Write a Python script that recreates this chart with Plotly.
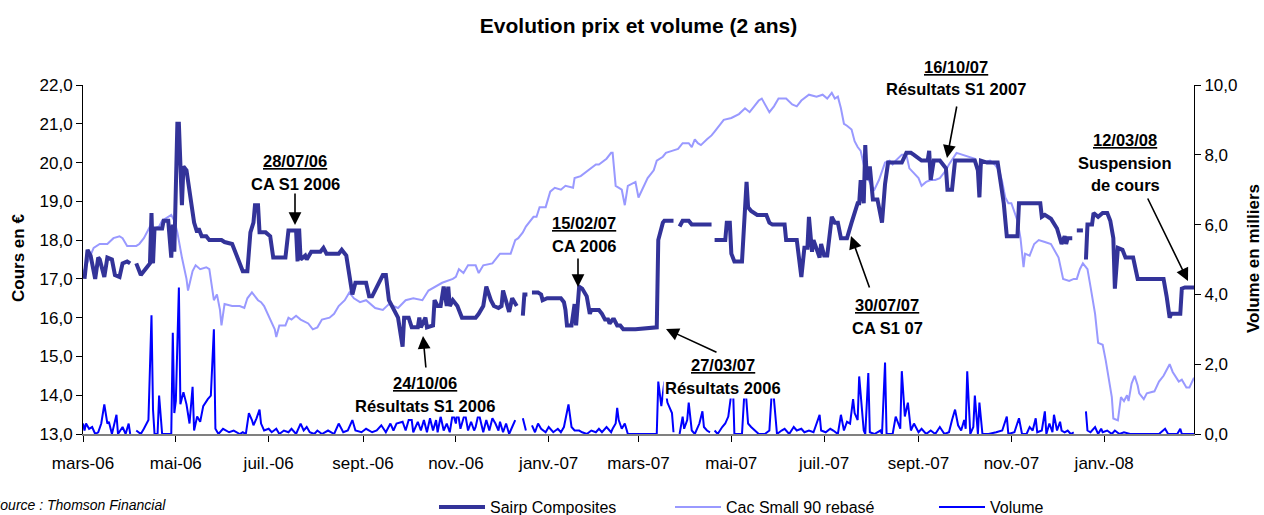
import plotly.graph_objects as go

# ---------------- data ----------------
sairp = [
    ("2006-03-14", 17.0), ("2006-03-16", 17.75), ("2006-03-18", 17.6), ("2006-03-21", 17.0),
    ("2006-03-23", 17.55), ("2006-03-24", 17.5), ("2006-03-27", 17.05), ("2006-03-29", 17.55),
    ("2006-04-01", 17.5), ("2006-04-03", 17.1), ("2006-04-06", 17.05), ("2006-04-08", 17.4),
    ("2006-04-11", 17.45), ("2006-04-13", 17.4), ("2006-04-15", None), ("2006-04-17", 17.4),
    ("2006-04-20", 17.1), ("2006-04-24", 17.3), ("2006-04-26", 17.4), ("2006-04-27", 18.7),
    ("2006-04-28", 17.4), ("2006-04-29", 18.3), ("2006-05-04", 18.3), ("2006-05-05", 18.5),
    ("2006-05-08", 18.5), ("2006-05-10", 17.55), ("2006-05-11", 18.4), ("2006-05-12", 17.7),
    ("2006-05-14", 21.0), ("2006-05-15", 21.0), ("2006-05-17", 18.9), ("2006-05-18", 19.9),
    ("2006-05-20", 19.8), ("2006-05-25", 18.45), ("2006-05-27", 18.2), ("2006-05-28", 18.3),
    ("2006-05-30", 18.1), ("2006-06-02", 18.1), ("2006-06-04", 18.0), ("2006-06-06", 18.0),
    ("2006-06-12", 18.0), ("2006-06-14", 17.95), ("2006-06-19", 17.9), ("2006-06-26", 17.2),
    ("2006-06-29", 17.2), ("2006-07-01", 18.2), ("2006-07-03", 18.45), ("2006-07-04", 18.9),
    ("2006-07-06", 18.9), ("2006-07-07", 18.2), ("2006-07-11", 18.2), ("2006-07-14", 18.1),
    ("2006-07-16", 17.55), ("2006-07-24", 17.55), ("2006-07-26", 18.25), ("2006-07-31", 18.25),
    ("2006-08-01", 17.45), ("2006-08-02", 18.3), ("2006-08-03", 17.5), ("2006-08-06", 17.6),
    ("2006-08-07", 17.5), ("2006-08-10", 17.7), ("2006-08-16", 17.7), ("2006-08-18", 17.8),
    ("2006-08-20", 17.65), ("2006-08-28", 17.65), ("2006-08-30", 17.75), ("2006-09-02", 17.6),
    ("2006-09-04", 17.15), ("2006-09-06", 16.6), ("2006-09-08", 16.9), ("2006-09-15", 16.9),
    ("2006-09-17", 16.55), ("2006-09-19", 16.55), ("2006-09-26", 17.1), ("2006-09-28", 17.1),
    ("2006-09-30", 16.45), ("2006-10-03", 16.2), ("2006-10-06", 16.0), ("2006-10-09", 15.25),
    ("2006-10-10", 16.0), ("2006-10-13", 16.0), ("2006-10-15", 15.75), ("2006-10-19", 15.75),
    ("2006-10-20", 16.0), ("2006-10-21", 15.75), ("2006-10-24", 16.0), ("2006-10-25", 15.75),
    ("2006-10-29", 15.8), ("2006-10-30", 16.45), ("2006-11-01", 16.3), ("2006-11-03", 16.3),
    ("2006-11-05", 16.8), ("2006-11-07", 16.3), ("2006-11-08", 16.8), ("2006-11-09", 16.3),
    ("2006-11-11", 16.45), ("2006-11-14", 16.3), ("2006-11-17", 16.0), ("2006-11-26", 16.0),
    ("2006-11-28", 16.1), ("2006-12-01", 16.3), ("2006-12-03", 16.8), ("2006-12-06", 16.45),
    ("2006-12-08", 16.3), ("2006-12-11", 16.25), ("2006-12-13", 16.3), ("2006-12-14", 16.7),
    ("2006-12-18", 16.15), ("2006-12-20", 16.5), ("2006-12-23", 16.3), ("2006-12-25", None),
    ("2006-12-27", 16.05), ("2006-12-28", 16.6), ("2006-12-30", 16.6), ("2007-01-01", None),
    ("2007-01-02", 16.65), ("2007-01-06", 16.65), ("2007-01-08", 16.6), ("2007-01-09", 16.45),
    ("2007-01-12", 16.5), ("2007-01-15", 16.5), ("2007-01-21", 16.5), ("2007-01-23", 16.4),
    ("2007-01-24", 16.2), ("2007-01-25", 15.8), ("2007-01-28", 15.8), ("2007-01-30", 16.35),
    ("2007-01-31", 15.8), ("2007-02-02", 16.8), ("2007-02-04", 16.75), ("2007-02-07", 16.55),
    ("2007-02-09", 16.1), ("2007-02-10", 16.2), ("2007-02-15", 16.2), ("2007-02-17", 16.1),
    ("2007-02-19", 15.95), ("2007-02-21", 15.95), ("2007-02-22", 15.85), ("2007-02-24", 15.95),
    ("2007-02-25", 15.95), ("2007-02-27", 15.8), ("2007-03-01", 15.8), ("2007-03-03", 15.7),
    ("2007-03-11", 15.7), ("2007-03-25", 15.75), ("2007-03-26", 18.0), ("2007-03-29", 18.45),
    ("2007-03-30", 18.5), ("2007-04-05", 18.5), ("2007-04-07", None), ("2007-04-09", 18.35),
    ("2007-04-11", 18.5), ("2007-04-15", 18.5), ("2007-04-17", 18.4), ("2007-04-30", 18.4),
    ("2007-05-01", None), ("2007-05-02", 18.0), ("2007-05-09", 18.0), ("2007-05-10", 18.45),
    ("2007-05-12", 18.45), ("2007-05-13", 17.65), ("2007-05-15", 17.45), ("2007-05-20", 17.45),
    ("2007-05-23", 19.5), ("2007-05-24", 18.85), ("2007-05-26", 18.75), ("2007-05-30", 18.65),
    ("2007-06-05", 18.65), ("2007-06-07", 18.45), ("2007-06-09", 18.4), ("2007-06-17", 18.4),
    ("2007-06-18", 18.0), ("2007-06-25", 18.0), ("2007-06-28", 17.05), ("2007-06-30", 17.8),
    ("2007-07-02", 17.8), ("2007-07-03", 18.6), ("2007-07-05", 17.7), ("2007-07-06", 18.0),
    ("2007-07-10", 17.55), ("2007-07-11", 17.9), ("2007-07-13", 17.6), ("2007-07-15", 17.6),
    ("2007-07-18", 18.6), ("2007-07-20", 18.45), ("2007-07-22", 18.45), ("2007-07-24", 18.05),
    ("2007-07-28", 18.05), ("2007-07-31", 18.45), ("2007-08-01", 18.6), ("2007-08-04", 18.95),
    ("2007-08-05", 18.95), ("2007-08-06", 19.55), ("2007-08-08", 18.95), ("2007-08-09", 20.45),
    ("2007-08-10", 19.55), ("2007-08-12", 19.9), ("2007-08-14", 19.05), ("2007-08-17", 19.05),
    ("2007-08-20", 18.45), ("2007-08-22", 19.45), ("2007-08-24", 20.0), ("2007-08-27", 20.0),
    ("2007-09-02", 20.0), ("2007-09-05", 20.25), ("2007-09-08", 20.25), ("2007-09-10", 20.2),
    ("2007-09-15", 20.05), ("2007-09-19", 20.05), ("2007-09-20", 20.3), ("2007-09-21", 19.55),
    ("2007-09-23", 20.05), ("2007-09-27", 20.05), ("2007-10-01", 19.85), ("2007-10-02", 19.3),
    ("2007-10-05", 19.3), ("2007-10-07", 20.05), ("2007-10-20", 20.05), ("2007-10-22", 19.8),
    ("2007-10-23", 19.1), ("2007-10-24", 20.05), ("2007-10-28", 20.0), ("2007-11-04", 20.0),
    ("2007-11-06", 19.5), ("2007-11-08", 18.95), ("2007-11-10", 18.1), ("2007-11-17", 18.1),
    ("2007-11-18", 18.95), ("2007-12-02", 18.95), ("2007-12-03", 18.6), ("2007-12-05", 18.65),
    ("2007-12-09", 18.55), ("2007-12-11", 18.4), ("2007-12-13", 18.3), ("2007-12-16", 17.9),
    ("2007-12-18", 18.1), ("2007-12-19", 17.9), ("2007-12-20", 18.05), ("2007-12-23", 18.05),
    ("2007-12-25", None), ("2007-12-26", 18.25), ("2007-12-30", 18.25), ("2007-12-31", None),
    ("2008-01-01", 17.5), ("2008-01-02", 18.4), ("2008-01-05", 18.4), ("2008-01-06", 18.7),
    ("2008-01-09", 18.6), ("2008-01-12", 18.7), ("2008-01-15", 18.7), ("2008-01-17", 18.5),
    ("2008-01-19", 18.05), ("2008-01-20", 16.75), ("2008-01-22", 17.8), ("2008-01-25", 17.75),
    ("2008-01-27", 17.55), ("2008-02-01", 17.55), ("2008-02-04", 17.0), ("2008-02-21", 17.0),
    ("2008-02-23", 16.55), ("2008-02-25", 16.0), ("2008-02-26", 16.1), ("2008-03-03", 16.1),
    ("2008-03-04", 16.75), ("2008-03-06", 16.78), ("2008-03-12", 16.78),
]

cac_small90 = [
    ("2006-03-13", 17.15), ("2006-03-20", 17.8), ("2006-03-24", 17.9), ("2006-03-29", 17.9),
    ("2006-04-02", 18.05), ("2006-04-06", 18.1), ("2006-04-08", 18.05), ("2006-04-11", 17.85),
    ("2006-04-17", 17.85), ("2006-04-19", 17.9), ("2006-04-22", 18.05), ("2006-04-26", 18.35),
    ("2006-04-29", 18.3), ("2006-05-02", 18.35), ("2006-05-04", 18.5), ("2006-05-06", 18.55),
    ("2006-05-10", 18.65), ("2006-05-12", 18.5), ("2006-05-14", 18.2), ("2006-05-17", 17.55),
    ("2006-05-20", 17.0), ("2006-05-21", 16.7), ("2006-05-24", 17.2), ("2006-05-26", 17.35),
    ("2006-05-29", 17.25), ("2006-06-02", 17.3), ("2006-06-04", 17.25), ("2006-06-07", 16.45),
    ("2006-06-09", 16.6), ("2006-06-11", 16.2), ("2006-06-12", 15.8), ("2006-06-14", 16.35),
    ("2006-06-19", 16.3), ("2006-06-24", 16.3), ("2006-06-27", 16.25), ("2006-06-29", 16.5),
    ("2006-07-02", 16.65), ("2006-07-06", 16.45), ("2006-07-08", 16.4), ("2006-07-10", 16.3),
    ("2006-07-14", 15.95), ("2006-07-17", 15.7), ("2006-07-18", 15.5), ("2006-07-20", 15.8),
    ("2006-07-24", 15.8), ("2006-07-26", 16.0), ("2006-07-28", 15.95), ("2006-07-31", 16.05),
    ("2006-08-03", 15.95), ("2006-08-08", 15.85), ("2006-08-11", 15.7), ("2006-08-14", 15.75),
    ("2006-08-17", 15.95), ("2006-08-22", 16.0), ("2006-08-25", 16.1), ("2006-08-28", 16.3),
    ("2006-09-01", 16.45), ("2006-09-04", 16.65), ("2006-09-07", 16.5), ("2006-09-11", 16.4),
    ("2006-09-15", 16.45), ("2006-09-21", 16.25), ("2006-09-26", 16.2), ("2006-09-30", 16.35),
    ("2006-10-06", 16.25), ("2006-10-11", 16.45), ("2006-10-16", 16.5), ("2006-10-22", 16.45),
    ("2006-10-26", 16.7), ("2006-10-31", 16.8), ("2006-11-04", 16.9), ("2006-11-11", 17.0),
    ("2006-11-13", 17.05), ("2006-11-15", 17.25), ("2006-11-18", 17.15), ("2006-11-21", 17.35),
    ("2006-11-26", 17.35), ("2006-11-28", 17.15), ("2006-12-01", 17.35), ("2006-12-07", 17.4),
    ("2006-12-10", 17.55), ("2006-12-12", 17.65), ("2006-12-16", 17.65), ("2006-12-19", 17.65),
    ("2006-12-22", 18.0), ("2006-12-24", 18.05), ("2006-12-27", 18.2), ("2006-12-29", 18.35),
    ("2007-01-03", 18.6), ("2007-01-05", 18.6), ("2007-01-07", 18.85), ("2007-01-11", 18.85),
    ("2007-01-14", 19.25), ("2007-01-17", 19.35), ("2007-01-21", 19.3), ("2007-01-24", 19.4),
    ("2007-01-29", 19.35), ("2007-01-30", 19.6), ("2007-02-03", 19.65), ("2007-02-08", 19.8),
    ("2007-02-13", 19.95), ("2007-02-15", 19.95), ("2007-02-18", 20.05), ("2007-02-20", 20.1),
    ("2007-02-23", 20.25), ("2007-02-24", 20.25), ("2007-02-26", 19.4), ("2007-03-02", 19.3),
    ("2007-03-04", 18.9), ("2007-03-06", 19.4), ("2007-03-11", 19.5), ("2007-03-13", 19.1),
    ("2007-03-16", 19.35), ("2007-03-19", 19.6), ("2007-03-23", 19.8), ("2007-03-25", 20.05),
    ("2007-03-29", 20.15), ("2007-03-31", 20.25), ("2007-04-04", 20.3), ("2007-04-08", 20.35),
    ("2007-04-11", 20.5), ("2007-04-15", 20.5), ("2007-04-17", 20.4), ("2007-04-19", 20.6),
    ("2007-04-21", 20.5), ("2007-04-23", 20.45), ("2007-04-27", 20.6), ("2007-04-30", 20.7),
    ("2007-05-02", 20.8), ("2007-05-05", 20.95), ("2007-05-08", 21.1), ("2007-05-13", 21.15),
    ("2007-05-18", 21.25), ("2007-05-22", 21.4), ("2007-05-25", 21.3), ("2007-05-28", 21.45),
    ("2007-05-31", 21.6), ("2007-06-02", 21.65), ("2007-06-04", 21.5), ("2007-06-07", 21.3),
    ("2007-06-10", 21.45), ("2007-06-13", 21.65), ("2007-06-18", 21.65), ("2007-06-22", 21.5),
    ("2007-06-25", 21.45), ("2007-06-28", 21.6), ("2007-07-03", 21.75), ("2007-07-08", 21.7),
    ("2007-07-12", 21.75), ("2007-07-15", 21.65), ("2007-07-18", 21.8), ("2007-07-20", 21.65),
    ("2007-07-22", 21.7), ("2007-07-24", 21.4), ("2007-07-26", 21.0), ("2007-07-28", 20.95),
    ("2007-07-31", 20.85), ("2007-08-02", 20.55), ("2007-08-04", 20.4), ("2007-08-06", 20.3),
    ("2007-08-08", 19.95), ("2007-08-10", 19.65), ("2007-08-13", 19.4), ("2007-08-15", 19.3),
    ("2007-08-18", 19.55), ("2007-08-22", 20.0), ("2007-08-25", 20.05), ("2007-08-27", 19.95),
    ("2007-08-29", 20.05), ("2007-09-02", 20.2), ("2007-09-05", 20.2), ("2007-09-07", 19.85),
    ("2007-09-13", 19.6), ("2007-09-15", 19.4), ("2007-09-18", 19.5), ("2007-09-21", 19.55),
    ("2007-09-24", 19.55), ("2007-09-27", 19.6), ("2007-10-01", 19.8), ("2007-10-03", 19.95),
    ("2007-10-08", 20.25), ("2007-10-12", 20.2), ("2007-10-16", 20.15), ("2007-10-20", 20.1),
    ("2007-10-22", 19.7), ("2007-10-25", 20.0), ("2007-10-30", 20.05), ("2007-11-02", 19.95),
    ("2007-11-05", 19.8), ("2007-11-07", 19.5), ("2007-11-09", 19.1), ("2007-11-11", 18.95),
    ("2007-11-13", 18.95), ("2007-11-17", 18.5), ("2007-11-19", 18.05), ("2007-11-21", 17.3),
    ("2007-11-22", 17.65), ("2007-11-25", 17.6), ("2007-11-28", 17.9), ("2007-12-01", 18.0),
    ("2007-12-05", 17.95), ("2007-12-09", 17.9), ("2007-12-14", 17.55), ("2007-12-17", 17.0),
    ("2007-12-21", 16.95), ("2007-12-24", 17.0), ("2007-12-26", 17.0), ("2007-12-28", 17.25),
    ("2007-12-30", 17.4), ("2008-01-02", 17.25), ("2008-01-04", 16.8), ("2008-01-07", 16.1),
    ("2008-01-09", 15.35), ("2008-01-12", 15.3), ("2008-01-14", 14.9), ("2008-01-15", 14.65),
    ("2008-01-16", 14.4), ("2008-01-18", 13.95), ("2008-01-19", 13.4), ("2008-01-22", 13.35),
    ("2008-01-24", 13.95), ("2008-01-26", 13.85), ("2008-01-28", 14.0), ("2008-01-29", 13.85),
    ("2008-01-31", 14.3), ("2008-02-02", 14.5), ("2008-02-04", 14.25), ("2008-02-05", 14.05),
    ("2008-02-08", 13.9), ("2008-02-10", 14.05), ("2008-02-15", 14.1), ("2008-02-18", 14.35),
    ("2008-02-21", 14.5), ("2008-02-25", 14.8), ("2008-02-27", 14.6), ("2008-03-02", 14.35),
    ("2008-03-04", 14.4), ("2008-03-07", 14.2), ("2008-03-09", 14.2), ("2008-03-12", 14.45),
]

volume_k = [
    ("2006-03-13", 0.30), ("2006-03-14", 0.10), ("2006-03-15", 0.30), ("2006-03-17", 0.15),
    ("2006-03-19", 0.20), ("2006-03-21", 0.00), ("2006-03-23", 0.05), ("2006-03-25", 0.30),
    ("2006-03-27", 0.85), ("2006-03-29", 0.30), ("2006-03-30", 0.35), ("2006-04-01", 0.00),
    ("2006-04-04", 0.55), ("2006-04-05", 0.00), ("2006-04-08", 0.20), ("2006-04-10", 0.00),
    ("2006-04-12", 0.30), ("2006-04-13", 0.00), ("2006-04-15", None), ("2006-04-17", 0.10),
    ("2006-04-20", 0.00), ("2006-04-22", 0.15), ("2006-04-25", 0.40), ("2006-04-27", 3.40),
    ("2006-04-28", 0.70), ("2006-04-29", 0.00), ("2006-05-01", 0.00), ("2006-05-02", 1.10),
    ("2006-05-04", 0.00), ("2006-05-10", 0.00), ("2006-05-11", 2.90), ("2006-05-12", 0.60),
    ("2006-05-13", 0.95), ("2006-05-15", 4.20), ("2006-05-16", 0.85), ("2006-05-18", 1.20),
    ("2006-05-20", 0.85), ("2006-05-22", 0.30), ("2006-05-24", 1.35), ("2006-05-25", 0.10),
    ("2006-05-27", 0.50), ("2006-05-29", 0.35), ("2006-05-31", 0.80), ("2006-06-03", 1.00),
    ("2006-06-05", 1.10), ("2006-06-07", 3.00), ("2006-06-08", 0.15), ("2006-06-10", 0.00),
    ("2006-06-13", 0.15), ("2006-06-17", 0.05), ("2006-06-20", 0.10), ("2006-06-24", 0.00),
    ("2006-06-26", 0.05), ("2006-06-28", 0.00), ("2006-06-30", 0.60), ("2006-07-02", 0.40),
    ("2006-07-03", 0.25), ("2006-07-05", 0.45), ("2006-07-07", 0.70), ("2006-07-08", 0.30),
    ("2006-07-10", 0.10), ("2006-07-13", 0.15), ("2006-07-15", 0.05), ("2006-07-18", 0.15),
    ("2006-07-20", 0.00), ("2006-07-23", 0.10), ("2006-07-26", 0.05), ("2006-07-28", 0.15),
    ("2006-07-31", 0.00), ("2006-08-03", 0.30), ("2006-08-05", 0.10), ("2006-08-07", 0.20),
    ("2006-08-09", 0.05), ("2006-08-12", 0.00), ("2006-08-14", 0.10), ("2006-08-17", 0.00),
    ("2006-08-21", 0.10), ("2006-08-25", 0.00), ("2006-08-28", 0.30), ("2006-08-31", 0.05),
    ("2006-09-03", 0.10), ("2006-09-06", 0.40), ("2006-09-08", 0.10), ("2006-09-12", 0.05),
    ("2006-09-15", 0.15), ("2006-09-19", 0.05), ("2006-09-22", 0.10), ("2006-09-25", 0.25),
    ("2006-09-28", 0.05), ("2006-10-01", 0.30), ("2006-10-03", 0.10), ("2006-10-05", 0.30),
    ("2006-10-09", 0.35), ("2006-10-11", 0.10), ("2006-10-13", 0.40), ("2006-10-15", 0.40),
    ("2006-10-16", 0.05), ("2006-10-19", 0.35), ("2006-10-21", 0.10), ("2006-10-23", 0.40),
    ("2006-10-25", 0.05), ("2006-10-27", 0.45), ("2006-10-29", 0.10), ("2006-10-31", 0.40),
    ("2006-11-01", 0.05), ("2006-11-03", 0.50), ("2006-11-05", 0.10), ("2006-11-07", 0.30),
    ("2006-11-09", 0.05), ("2006-11-11", 0.60), ("2006-11-13", 0.30), ("2006-11-14", 0.70),
    ("2006-11-16", 0.15), ("2006-11-19", 0.60), ("2006-11-21", 0.10), ("2006-11-23", 0.35),
    ("2006-11-25", 0.10), ("2006-11-26", 0.20), ("2006-11-28", 0.60), ("2006-12-01", 0.05),
    ("2006-12-03", 0.40), ("2006-12-05", 0.10), ("2006-12-07", 0.45), ("2006-12-09", 0.30),
    ("2006-12-11", 0.10), ("2006-12-12", 0.35), ("2006-12-14", 0.05), ("2006-12-16", 0.30),
    ("2006-12-18", 0.00), ("2006-12-20", 0.20), ("2006-12-22", 0.40), ("2006-12-25", None),
    ("2006-12-27", 0.45), ("2006-12-29", 0.10), ("2007-01-01", None), ("2007-01-02", 0.25),
    ("2007-01-04", 0.05), ("2007-01-06", 0.30), ("2007-01-08", 0.15), ("2007-01-11", 0.05),
    ("2007-01-13", 0.20), ("2007-01-16", 0.05), ("2007-01-19", 0.15), ("2007-01-21", 0.05),
    ("2007-01-23", 0.20), ("2007-01-26", 0.85), ("2007-01-28", 0.20), ("2007-01-30", 0.10),
    ("2007-02-02", 0.10), ("2007-02-04", 0.05), ("2007-02-07", 0.00), ("2007-02-10", 0.10),
    ("2007-02-13", 0.05), ("2007-02-15", 0.15), ("2007-02-17", 0.05), ("2007-02-20", 0.20),
    ("2007-02-23", 0.05), ("2007-02-24", 0.15), ("2007-02-26", 0.30), ("2007-02-27", 0.75),
    ("2007-02-28", 0.40), ("2007-03-02", 0.15), ("2007-03-04", 0.30), ("2007-03-06", 0.00),
    ("2007-03-14", 0.00), ("2007-03-20", 0.00), ("2007-03-25", 0.00), ("2007-03-26", 1.50),
    ("2007-03-28", 0.80), ("2007-03-30", 1.50), ("2007-04-01", 0.90), ("2007-04-04", 0.60),
    ("2007-04-05", 0.05), ("2007-04-07", None), ("2007-04-09", 0.00), ("2007-04-11", 0.50),
    ("2007-04-12", 0.15), ("2007-04-14", 0.40), ("2007-04-15", 0.90), ("2007-04-17", 0.10),
    ("2007-04-19", 0.00), ("2007-04-22", 0.30), ("2007-04-24", 0.65), ("2007-04-25", 0.20),
    ("2007-04-27", 0.10), ("2007-04-29", 0.05), ("2007-05-01", None), ("2007-05-02", 0.10),
    ("2007-05-04", 0.00), ("2007-05-07", 0.20), ("2007-05-09", 0.30), ("2007-05-11", 0.50),
    ("2007-05-14", 1.50), ("2007-05-15", 0.00), ("2007-05-20", 0.00), ("2007-05-22", 1.50),
    ("2007-05-24", 0.30), ("2007-05-26", 0.20), ("2007-05-31", 0.00), ("2007-06-04", 0.00),
    ("2007-06-07", 0.10), ("2007-06-09", 1.50), ("2007-06-10", 1.00), ("2007-06-12", 0.00),
    ("2007-06-15", 0.10), ("2007-06-17", 0.15), ("2007-06-20", 0.00), ("2007-06-23", 0.20),
    ("2007-06-25", 0.10), ("2007-06-28", 0.15), ("2007-06-30", 0.05), ("2007-07-03", 0.10),
    ("2007-07-06", 0.05), ("2007-07-10", 0.55), ("2007-07-11", 0.10), ("2007-07-14", 0.05),
    ("2007-07-17", 0.15), ("2007-07-19", 0.10), ("2007-07-22", 0.00), ("2007-07-24", 0.55),
    ("2007-07-26", 0.10), ("2007-07-28", 0.35), ("2007-07-30", 0.30), ("2007-08-01", 1.00),
    ("2007-08-02", 0.60), ("2007-08-04", 0.40), ("2007-08-05", 1.65), ("2007-08-07", 0.60),
    ("2007-08-08", 0.10), ("2007-08-09", 0.00), ("2007-08-11", 1.75), ("2007-08-12", 0.05),
    ("2007-08-15", 0.00), ("2007-08-19", 0.10), ("2007-08-20", 0.00), ("2007-08-22", 2.05),
    ("2007-08-23", 0.00), ("2007-08-27", 0.00), ("2007-08-29", 0.50), ("2007-09-01", 0.15),
    ("2007-09-02", 1.80), ("2007-09-04", 0.50), ("2007-09-06", 0.90), ("2007-09-08", 0.10),
    ("2007-09-10", 0.30), ("2007-09-13", 0.05), ("2007-09-15", 0.15), ("2007-09-18", 0.00),
    ("2007-09-21", 0.10), ("2007-09-24", 0.00), ("2007-09-27", 0.20), ("2007-09-30", 0.00),
    ("2007-10-03", 0.05), ("2007-10-05", 0.40), ("2007-10-07", 0.70), ("2007-10-09", 0.25),
    ("2007-10-11", 0.10), ("2007-10-13", 0.40), ("2007-10-14", 0.15), ("2007-10-15", 1.80),
    ("2007-10-17", 0.00), ("2007-10-19", 0.20), ("2007-10-20", 1.10), ("2007-10-22", 0.00),
    ("2007-10-23", 0.90), ("2007-10-25", 0.00), ("2007-10-29", 0.00), ("2007-11-03", 0.05),
    ("2007-11-07", 0.10), ("2007-11-10", 0.50), ("2007-11-11", 0.00), ("2007-11-15", 0.05),
    ("2007-11-18", 0.45), ("2007-11-20", 0.00), ("2007-11-23", 0.00), ("2007-11-25", 0.20),
    ("2007-11-27", 0.10), ("2007-11-29", 0.45), ("2007-11-30", 0.05), ("2007-12-03", 0.10),
    ("2007-12-05", 0.65), ("2007-12-06", 0.00), ("2007-12-08", 0.30), ("2007-12-10", 0.05),
    ("2007-12-11", 0.55), ("2007-12-13", 0.10), ("2007-12-15", 0.35), ("2007-12-16", 0.10),
    ("2007-12-18", 0.05), ("2007-12-20", 0.10), ("2007-12-22", 0.00), ("2007-12-24", 0.05),
    ("2007-12-27", None), ("2008-01-01", 0.65), ("2008-01-02", 0.10), ("2008-01-04", 0.05),
    ("2008-01-07", 0.20), ("2008-01-09", 0.00), ("2008-01-11", 0.15), ("2008-01-12", 0.05),
    ("2008-01-15", 0.10), ("2008-01-18", 0.00), ("2008-01-20", 0.10), ("2008-01-23", 0.00),
    ("2008-01-26", 0.05), ("2008-01-30", 0.00), ("2008-02-05", 0.00), ("2008-02-12", 0.00),
    ("2008-02-18", 0.00), ("2008-02-22", 0.15), ("2008-02-24", 0.00), ("2008-03-01", 0.00),
    ("2008-03-03", 0.15), ("2008-03-04", 0.00), ("2008-03-12", 0.00),
]

tick_dates = ["2006-03-13", "2006-05-13", "2006-07-13", "2006-09-13", "2006-11-13", "2007-01-13",
              "2007-03-13", "2007-05-13", "2007-07-13", "2007-09-13", "2007-11-13", "2008-01-13"]
tick_labels = ["mars-06", "mai-06", "juil.-06", "sept.-06", "nov.-06", "janv.-07",
               "mars-07", "mai-07", "juil.-07", "sept.-07", "nov.-07", "janv.-08"]

# event labels: (date line, description lines)
events = [
    ("28/07/06", ["CA S1 2006"]),
    ("15/02/07", ["CA 2006"]),
    ("24/10/06", ["Résultats S1 2006"]),
    ("27/03/07", ["Résultats 2006"]),
    ("16/10/07", ["Résultats S1 2007"]),
    ("30/07/07", ["CA S1 07"]),
    ("12/03/08", ["Suspension", "de cours"]),
]

# ---------------- layout constants (pixels) ----------------
W, H = 1264, 515
PL, PR, PT, PB = 83, 1194, 85, 434   # plot area edges in px
FONT = "Liberation Sans, Arial, sans-serif"


def px_x(x):
    return (x - PL) / (PR - PL)


def px_y(y):
    return (PB - y) / (PB - PT)


def unzip(pairs):
    return [p[0] for p in pairs], [p[1] for p in pairs]


sx, sy = unzip(sairp)
cx, cy = unzip(cac_small90)
vx, vy = unzip(volume_k)

fig = go.Figure()
fig.add_trace(go.Scatter(x=cx, y=cy, mode="lines", name="Cac Small 90 rebasé",
                         line=dict(color="#9999FF", width=2), legend="legend2"))
fig.add_trace(go.Scatter(x=sx, y=sy, mode="lines", name="Sairp Composites",
                         line=dict(color="#333399", width=4), legend="legend"))
fig.add_trace(go.Scatter(x=vx, y=vy, mode="lines", name="Volume", yaxis="y2",
                         line=dict(color="#0000FF", width=2), legend="legend3"))

# positions of text (centre px) and arrows (tail px -> head px) for each event
event_text_pos = [(295, 161), (584, 223), (425, 383), (723, 365), (956, 67), (887, 305), (1125, 140)]
event_arrows = [((295, 192), (295, 225)), ((578, 257), (578, 287)), ((426, 369), (423, 336)),
                ((718, 353), (666, 329)), ((957, 105), (947, 158)), ((870, 289), (851, 236)),
                ((1147, 197), (1188, 281))]
LINE_H = 22.5

annotations = []
for (date_txt, lines), (tx, ty), (tail, head) in zip(events, event_text_pos, event_arrows):
    all_lines = ["<u>%s</u>" % date_txt] + lines
    for i, t in enumerate(all_lines):
        annotations.append(dict(
            text=t, x=px_x(tx), y=px_y(ty + i * LINE_H), xref="paper", yref="paper",
            xanchor="center", yanchor="middle", showarrow=False, bgcolor="white", borderpad=1,
            font=dict(family=FONT, size=16.5, color="black", weight="bold")))
    annotations.append(dict(
        text="", x=px_x(head[0]), y=px_y(head[1]), xref="paper", yref="paper",
        ax=tail[0] - head[0], ay=tail[1] - head[1], showarrow=True,
        arrowhead=2, arrowsize=1.6, arrowwidth=1.6, arrowcolor="black", standoff=0, startstandoff=0))

# axis titles and source
annotations.append(dict(text="Cours en €", x=px_x(18), y=px_y(258), xref="paper", yref="paper",
                        textangle=-90, showarrow=False, xanchor="center", yanchor="middle",
                        font=dict(family=FONT, size=17, color="black", weight="bold")))
annotations.append(dict(text="Volume en milliers", x=px_x(1253), y=px_y(259), xref="paper", yref="paper",
                        textangle=-90, showarrow=False, xanchor="center", yanchor="middle",
                        font=dict(family=FONT, size=17, color="black", weight="bold")))
annotations.append(dict(text="Source : Thomson Financial", x=px_x(-11), y=px_y(505), xref="paper", yref="paper",
                        showarrow=False, xanchor="left", yanchor="middle",
                        font=dict(family=FONT, size=14, color="black", style="italic")))

legend_common = dict(orientation="h", yanchor="middle", xanchor="left",
                     xref="container", yref="container", y=1 - 507 / H,
                     font=dict(family=FONT, size=16, color="black"), bgcolor="rgba(0,0,0,0)",
                     itemwidth=46)

tick_in = dict(showgrid=False, zeroline=False, showline=False, showticklabels=False,
               ticks="inside", ticklen=5, tickcolor="black", tickwidth=1, automargin=False)

fig.update_layout(
    width=W, height=H,
    margin=dict(l=PL, r=W - PR, t=PT, b=H - PB, pad=0, autoexpand=False),
    paper_bgcolor="white", plot_bgcolor="white",
    separators=", ",
    title=dict(text="<b>Evolution prix et volume (2 ans)</b>", x=0.5, xref="paper", xanchor="center",
               y=1 - 26 / H, yref="container", yanchor="middle",
               font=dict(family=FONT, size=21, color="black")),
    xaxis=dict(type="date", range=["2006-03-13", "2008-03-12"], tickvals=tick_dates, ticktext=tick_labels,
               showgrid=False, zeroline=False, showline=True, linecolor="#808080", linewidth=1.5,
               ticks="outside", ticklen=6, tickcolor="black", tickwidth=1, ticklabelstandoff=7,
               automargin=False, tickfont=dict(family=FONT, size=17, color="black")),
    xaxis2=dict(type="date", range=["2006-03-13", "2008-03-12"], tickvals=tick_dates,
                overlaying="x", anchor="y", side="bottom", **tick_in),
    yaxis=dict(range=[13, 22], dtick=1, tickformat=".1f", showgrid=False, zeroline=False,
               showline=True, linecolor="black", linewidth=1, ticks="outside", ticklen=6,
               automargin=False, tickcolor="black", tickfont=dict(family=FONT, size=17, color="black")),
    yaxis2=dict(range=[0, 10], dtick=2, tickformat=".1f", overlaying="y", side="right",
                showgrid=False, zeroline=False, showline=True, linecolor="black", linewidth=1,
                ticks="outside", ticklen=6, tickcolor="black", automargin=False,
                tickfont=dict(family=FONT, size=17, color="black")),
    yaxis3=dict(range=[13, 22], dtick=1, overlaying="y", side="left", anchor="x", **tick_in),
    yaxis4=dict(range=[0, 10], dtick=2, overlaying="y", side="right", anchor="x", **tick_in),
    legend=dict(x=434 / W, **legend_common),
    legend2=dict(x=670 / W, **legend_common),
    legend3=dict(x=934 / W, **legend_common),
    annotations=annotations,
    showlegend=True,
)

fig.write_html("out.html", config={"displayModeBar": False},
               post_script="document.body.style.margin='0';document.body.style.overflow='hidden';")
